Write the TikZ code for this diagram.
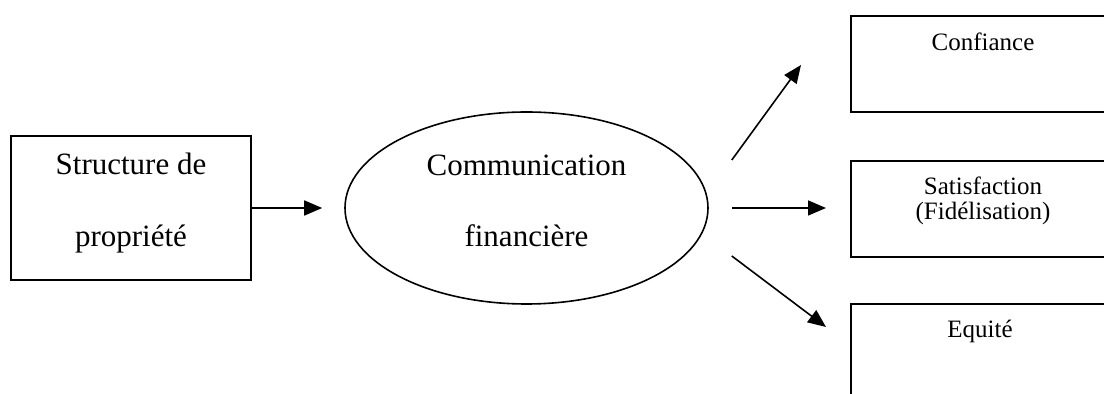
\documentclass[tikz,border=0pt]{standalone}
\usepackage{fontspec}
\setmainfont{Liberation Serif}
\usetikzlibrary{arrows.meta,shapes.geometric,calc}
\tikzset{x=0.5pt, y=-0.5pt, % one unit is one pixel of the layout, y downwards
        box/.style={ % Frames of the blocks
            draw,
            line width=1pt,
            inner sep=0pt},
        oval/.style={ % The central block
            ellipse,
            draw,
            line width=0.8pt,
            inner sep=0pt,
            minimum width=181.5pt,
            minimum height=96pt},
        bigtxt/.style={anchor=base, inner sep=0pt, font=\fontsize{15.5}{18}\selectfont},
        smalltxt/.style={anchor=base, inner sep=0pt, font=\fontsize{12.5}{15}\selectfont},
        arr/.style={ % Makes the links directed with filled heads
            draw,
            line width=0.8pt,
            -{Triangle[length=9pt,width=7.5pt]}}
        }

\begin{document}
\begin{tikzpicture}
    \useasboundingbox (0,0) rectangle (1104,394);
    \clip (0,0) rectangle (1104,394);

    % blocks
    \node[box, minimum width=120pt, minimum height=72pt] (owner) at (131,208) {};
    \node[oval]                                          (comm)  at (526.5,208) {};
    \node[box, minimum width=132pt, minimum height=48pt] (trust) at (983,64) {};
    \node[box, minimum width=132pt, minimum height=48pt] (satis) at (983,209.5) {};
    \node[box, minimum width=132pt, minimum height=48pt] (equity) at (983,352) {};

    % texts
    \node[bigtxt]   (ownerA) at (131,175)   {Structure de};
    \node[bigtxt]   (ownerB) at (131,247)   {propriété};
    \node[bigtxt]   (commA)  at (526.5,176) {Communication};
    \node[bigtxt]   (commB)  at (526.5,247) {financière};
    \node[smalltxt] (trustA) at (983,51)    {Confiance};
    \node[smalltxt] (satisA) at (983,195)   {Satisfaction};
    \node[smalltxt] (satisB) at (983,220)   {(Fidélisation)};
    \node[smalltxt] (equityA) at (980,338)  {Equité};

    % links
    \draw[arr, shorten >=11pt] (owner.east) -- (comm.west);
    \draw[arr] ($(comm.east)+(23,-48)$) -- ($(trust.west)+(-49,1)$);
    \draw[arr, shorten <=11.5pt, shorten >=12pt] (comm.east) -- (comm.east -| satis.west);
    \draw[arr] ($(comm.east)+(23,48)$) -- ($(equity.west)+(-24,-25)$);
\end{tikzpicture}
\end{document}
